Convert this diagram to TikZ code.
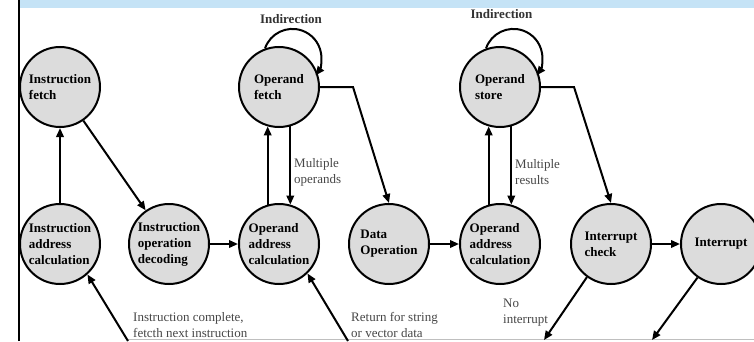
\documentclass[tikz,border=0pt]{standalone}
\usepackage{fontspec}
\setmainfont{Liberation Serif}
\usetikzlibrary{arrows.meta}

\begin{document}
\begin{tikzpicture}[x=1pt, y=1pt,
    state/.style={circle, draw, line width=2pt, fill=stategray, minimum size=80pt,
      inner sep=0pt, align=left, font=\bfseries\fontsize{13}{16}\selectfont},
    flow/.style={line width=2pt, -{Triangle[length=9pt, width=7.5pt]}},
    note/.style={anchor=west, align=left, inner sep=0pt, text=notegray,
      font=\fontsize{13}{16}\selectfont},
    loopnote/.style={inner sep=0pt, text=black!80, font=\bfseries\fontsize{13}{16}\selectfont}]
    % Colors
    \definecolor{stategray}{RGB}{220, 220, 220}
    \definecolor{notegray}{RGB}{70, 70, 70}
    \definecolor{bandblue}{RGB}{197, 227, 246}

    \useasboundingbox (0,0) rectangle (754,341);
    \clip (0,0) rectangle (754,341);

    % Frame pieces
    \fill[bandblue] (19,333) rectangle (754,341);
    \draw[line width=2pt] (19,0) -- (19,341);
    \draw[black!25, line width=0.6pt] (128,1.5) -- (754,1.5);

    % States, upper row
    \node[state] (ifetch) at (60,254) {Instruction\\fetch};
    \node[state] (ofetch) at (279,254) {Operand\\fetch};
    \node[state] (ostore) at (500,254) {Operand\\store};

    % States, lower row
    \node[state] (iaddr) at (60,97) {Instruction\\address\\calculation};
    \node[state] (idecode) at (169,97) {Instruction\\operation\\decoding};
    \node[state] (oaddr) at (279,97) {Operand\\address\\calculation};
    \node[state] (dataop) at (389,97) {Data\\Operation};
    \node[state] (oaddrb) at (500,97) {Operand\\address\\calculation};
    \node[state] (icheck) at (611,97) {Interrupt\\check};
    \node[state] (intr) at (721,97) {Interrupt};

    % Loose ends at the bottom
    \coordinate (nextins) at (128,0);
    \coordinate (retstr) at (348,0);
    \coordinate (nointr) at (544,1);
    \coordinate (intrend) at (652,1);

    % Transitions
    \draw[flow] (iaddr) -- (ifetch);
    \draw[flow] (ifetch) -- (idecode);
    \draw[flow] (idecode) -- (oaddr);
    \draw[flow] (oaddr.106) -- (ofetch.254);
    \draw[flow] (ofetch.286) -- (oaddr.74);
    \draw[flow] (ofetch.east) -- ++(33,0) -- (dataop.north);
    \draw[flow] (dataop) -- (oaddrb);
    \draw[flow] (oaddrb.106) -- (ostore.254);
    \draw[flow] (ostore.286) -- (oaddrb.74);
    \draw[flow] (ostore.east) -- ++(33,0) -- (icheck.north);
    \draw[flow] (icheck) -- (intr);
    \draw[flow] (icheck.234) -- (nointr);
    \draw[flow] (intr.235) -- (intrend);
    \draw[flow] (nextins) -- (iaddr.312);
    \draw[flow] (retstr) -- (oaddr.314);

    % Indirection loops
    \draw[flow] (ofetch.110) arc[start angle=161, end angle=-37, radius=29];
    \draw[flow] (ostore.110) arc[start angle=161, end angle=-37, radius=29];

    % Annotations
    \node[loopnote] (indf) at (291,322) {Indirection};
    \node[loopnote] (inds) at (501.5,326.5) {Indirection};
    \node[note] (mulop) at (294,169) {Multiple\\operands};
    \node[note] (mulres) at (515,169) {Multiple\\results};
    \node[note] (compl) at (133,16) {Instruction complete,\\fetcth next instruction};
    \node[note] (retn) at (351,16) {Return for string\\or vector data};
    \node[note] (noint) at (503,28.5) {No\\interrupt};
\end{tikzpicture}
\end{document}
